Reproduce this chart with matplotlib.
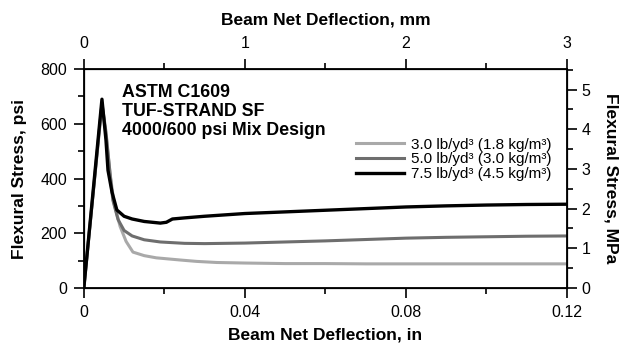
import matplotlib.pyplot as plt
from matplotlib.ticker import MultipleLocator, FormatStrFormatter

plt.rcParams['font.family'] = ['Liberation Sans', 'DejaVu Sans']

# deflection (in) and flexural stress (psi)
x_light = [0, 0.0045, 0.0055, 0.0065, 0.0075, 0.009, 0.0105, 0.0122, 0.015, 0.018,
           0.021, 0.024, 0.028, 0.033, 0.04, 0.05, 0.06, 0.07, 0.08, 0.09, 0.10, 0.11, 0.12]
y_light = [0, 670, 560, 420, 310, 225, 170, 131, 118, 110,
           106, 102, 97, 93, 91, 89, 89, 88, 88, 88, 88, 88, 88]

x_dark = [0, 0.0045, 0.0055, 0.0065, 0.0072, 0.0085, 0.010, 0.012, 0.015, 0.019,
          0.025, 0.03, 0.04, 0.05, 0.06, 0.07, 0.08, 0.09, 0.10, 0.11, 0.12]
y_dark = [0, 675, 570, 420, 321, 250, 210, 190, 176, 168,
          163, 162, 164, 168, 172, 177, 182, 185, 187, 189, 190]

x_black = [0, 0.0045, 0.0055, 0.006, 0.007, 0.0082, 0.010, 0.012, 0.015, 0.019,
           0.0205, 0.022, 0.025, 0.03, 0.04, 0.05, 0.06, 0.07, 0.08, 0.09, 0.10, 0.11, 0.12]
y_black = [0, 690, 540, 430, 350, 285, 262, 252, 243, 237,
           240, 252, 256, 262, 272, 278, 284, 290, 296, 300, 303, 305, 306]

labels = ['3.0 lb/yd³ (1.8 kg/m³)', '5.0 lb/yd³ (3.0 kg/m³)', '7.5 lb/yd³ (4.5 kg/m³)']

LBL = 12.5
TCK = 11.5

fig = plt.figure(figsize=(6.21, 3.49), dpi=100)
ax = fig.add_axes([0.135, 0.175, 0.778, 0.627])

ax.plot(x_light, y_light, color='#a9a9a9', lw=2.2, label=labels[0])
ax.plot(x_dark, y_dark, color='#6e6e6e', lw=2.2, label=labels[1])
ax.plot(x_black, y_black, color='black', lw=2.4, label=labels[2])

ax.set_xlim(0, 0.12)
ax.set_ylim(0, 800)
ax.xaxis.set_major_locator(MultipleLocator(0.04))
ax.xaxis.set_minor_locator(MultipleLocator(0.02))
ax.xaxis.set_major_formatter(FormatStrFormatter('%g'))
ax.yaxis.set_major_locator(MultipleLocator(200))
ax.yaxis.set_minor_locator(MultipleLocator(100))
ax.tick_params(which='both', direction='out', labelsize=TCK, width=1.2)
ax.tick_params(which='major', length=7, pad=5)
ax.tick_params(which='minor', length=4.5)
ax.set_xlabel('Beam Net Deflection, in', fontsize=LBL, fontweight='bold', labelpad=6)
ax.set_ylabel('Flexural Stress, psi', fontsize=LBL, fontweight='bold', labelpad=10)
for s in ax.spines.values():
    s.set_linewidth(1.3)

# metric axes
ax_top = ax.twiny()
ax_top.set_xlim(0, 3)
ax_top.xaxis.set_major_locator(MultipleLocator(1))
ax_top.xaxis.set_minor_locator(MultipleLocator(0.5))
ax_top.tick_params(which='both', direction='out', labelsize=TCK, width=1.2)
ax_top.tick_params(which='major', length=7, pad=6)
ax_top.tick_params(which='minor', length=4.5)
ax_top.set_xlabel('Beam Net Deflection, mm', fontsize=LBL, fontweight='bold', labelpad=8)

ax_right = ax.twinx()
ax_right.set_ylim(0, 800 * 0.00689476)
ax_right.yaxis.set_major_locator(MultipleLocator(1))
ax_right.yaxis.set_minor_locator(MultipleLocator(0.5))
ax_right.tick_params(which='both', direction='out', labelsize=TCK, width=1.2)
ax_right.tick_params(which='major', length=7)
ax_right.tick_params(which='minor', length=4.5)
ax_right.set_ylabel('Flexural Stress, MPa', fontsize=LBL, fontweight='bold',
                    rotation=270, labelpad=20)

ax.text(0.079, 0.93, 'ASTM C1609\nTUF-STRAND SF\n4000/600 psi Mix Design',
        transform=ax.transAxes, fontsize=12.8, fontweight='bold', va='top',
        linespacing=1.12)

ax.legend(loc='upper right', bbox_to_anchor=(0.98, 0.715), frameon=False,
          fontsize=11, handlelength=3.1, handletextpad=0.45, labelspacing=0.05,
          borderaxespad=0)

fig.savefig('out.png', dpi=100)
